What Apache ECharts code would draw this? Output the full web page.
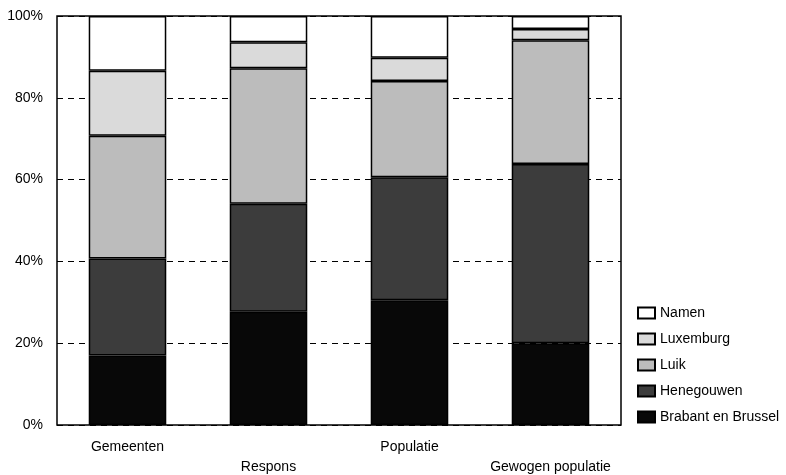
<!DOCTYPE html>
<html>
<head>
<meta charset="utf-8">
<script src="https://cdn.jsdelivr.net/npm/echarts@6/dist/echarts.min.js"></script>
<style>
html,body{margin:0;padding:0;background:#fff;}
#chart{width:786px;height:475px;}
</style>
</head>
<body>
<div id="chart"></div>
<script>
const categories = ['Gemeenten', 'Respons', 'Populatie', 'Gewogen populatie'];
const brabantBrussel = [17.0, 27.7, 30.5, 20.0];
const henegouwen = [23.7, 26.4, 30.1, 43.8];
const luik = [30.0, 33.1, 23.5, 30.3];
const luxemburg = [15.9, 6.4, 5.7, 2.7];
const namen = [13.4, 6.4, 10.2, 3.2];
const yTicks = [0, 20, 40, 60, 80, 100];

const FONT = 'Liberation Sans, Arial, sans-serif';
const chart = echarts.init(document.getElementById('chart'));

function seriesOf(name, data, color) {
  return {
    name: name,
    type: 'bar',
    stack: 'total',
    barWidth: '55%',
    data: data,
    itemStyle: { color: color, borderColor: '#000', borderWidth: 1.5 },
    emphasis: { disabled: true }
  };
}

chart.setOption({
  animation: false,
  textStyle: { fontFamily: FONT, color: '#000' },
  grid: {
    left: 57, right: 165, top: 16, bottom: 50,
    outerBoundsMode: 'none',
    containLabel: false,
    show: true, borderColor: '#000', borderWidth: 1.5, backgroundColor: 'transparent'
  },
  xAxis: {
    type: 'category',
    data: categories,
    axisLine: { show: false },
    axisTick: { show: false },
    axisLabel: {
      interval: 0,
      margin: 12,
      fontSize: 14,
      lineHeight: 20,
      color: '#000',
      fontFamily: FONT,
      formatter: function (v, i) { return i % 2 ? '\n' + v : v; }
    }
  },
  yAxis: {
    type: 'value',
    min: yTicks[0],
    max: yTicks[yTicks.length - 1],
    interval: 20,
    axisLine: { show: false },
    axisTick: { show: false },
    axisLabel: { formatter: '{value}%', fontSize: 14, color: '#000', margin: 14, fontFamily: FONT },
    splitLine: { show: true, lineStyle: { color: '#000', type: [6, 5], width: 1 } }
  },
  legend: {
    orient: 'vertical',
    left: 632,
    top: 300,
    itemWidth: 17,
    itemHeight: 11,
    itemGap: 10,
    icon: 'rect',
    selectedMode: false,
    data: ['Namen', 'Luxemburg', 'Luik', 'Henegouwen', 'Brabant en Brussel'],
    textStyle: { fontSize: 14, lineHeight: 16, color: '#000', fontFamily: FONT }
  },
  series: [
    seriesOf('Brabant en Brussel', brabantBrussel, '#080808'),
    seriesOf('Henegouwen', henegouwen, '#3c3c3c'),
    seriesOf('Luik', luik, '#bcbcbc'),
    seriesOf('Luxemburg', luxemburg, '#dadada'),
    seriesOf('Namen', namen, '#ffffff')
  ]
});
</script>
</body>
</html>
